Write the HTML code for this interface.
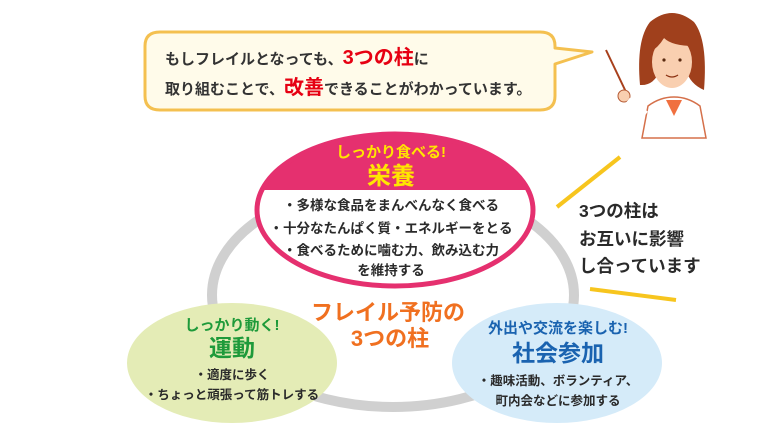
<!DOCTYPE html>
<html><head><meta charset="utf-8"><style>
html,body{margin:0;padding:0;background:#fff;}
svg{display:block;}
text{font-family:"Liberation Sans","Noto Sans CJK JP",sans-serif;font-weight:bold;}
</style></head><body>
<svg width="780" height="438" viewBox="0 0 780 438" xmlns="http://www.w3.org/2000/svg">
<!-- speech bubble -->
<path d="M160,32 L540,32 Q555,32 555,46 L555,48 L592,52 L555,64 L555,96 Q555,110 540,110 L160,110 Q145,110 145,96 L145,46 Q145,32 160,32 Z" fill="#fffbea" stroke="#f4c050" stroke-width="3" stroke-linejoin="round"/>
<text x="165" y="64" font-size="15" fill="#333">もしフレイルとなっても、<tspan fill="#e60012" font-size="20">3つの柱</tspan>に</text>
<text x="165" y="94" font-size="15" fill="#333">取り組むことで、<tspan fill="#e60012" font-size="20">改善</tspan>できることがわかっています。</text>

<!-- woman -->
<line x1="606" y1="50" x2="626" y2="92" stroke="#a8401c" stroke-width="2"/>
<path d="M642,138 L648,106 Q660,97 674,97 Q688,97 700,106 L706,138 Z" fill="#fff" stroke="#d5704a" stroke-width="1.5"/>
<path d="M666,100 L674,116 L682,100 Z" fill="#f07040"/>
<circle cx="624" cy="96" r="6" fill="#f9cfb0" stroke="#b55a34" stroke-width="1"/>
<path d="M628,100 L646,114" stroke="#fff" stroke-width="6"/>
<path d="M640,85 Q636,40 650,22 Q672,4 694,22 Q708,40 704,90 Q690,84 686,70 L660,70 Q654,86 640,85 Z" fill="#a0401c"/>
<ellipse cx="672" cy="62" rx="20" ry="26" fill="#f9cfb0"/>
<path d="M650,50 Q660,28 694,36 L694,46 Q672,46 664,38 Q658,48 650,52 Z" fill="#a0401c"/>
<circle cx="664" cy="60" r="1.6" fill="#5a2a10"/><circle cx="680" cy="60" r="1.6" fill="#5a2a10"/>
<path d="M666,75 Q672,79 678,75" stroke="#8a3010" stroke-width="1.3" fill="none"/>

<!-- gray ring -->
<ellipse cx="393" cy="295" rx="181" ry="112" fill="none" stroke="#d0d0d0" stroke-width="10"/>

<!-- pink ellipse -->
<defs><clipPath id="pc"><ellipse cx="395" cy="210" rx="138" ry="76"/></clipPath></defs>
<ellipse cx="395" cy="210" rx="138" ry="76" fill="#fff"/>
<rect x="250" y="130" width="290" height="60" fill="#e5306f" clip-path="url(#pc)"/>
<ellipse cx="395" cy="210" rx="138" ry="76" fill="none" stroke="#e5306f" stroke-width="5"/>
<text x="391" y="157" font-size="15" fill="#ffe600" text-anchor="middle">しっかり食べる!</text>
<text x="391" y="184" font-size="24" fill="#ffe600" text-anchor="middle">栄養</text>
<g font-size="13.5" fill="#2a2a2a" text-anchor="middle">
<text x="391" y="210">・多様な食品をまんべんなく食べる</text>
<text x="391" y="233">・十分なたんぱく質・エネルギーをとる</text>
<text x="391" y="255">・食べるために噛む力、飲み込む力</text>
<text x="391" y="275">を維持する</text>
</g>

<!-- center -->
<text x="388" y="320" font-size="22" fill="#f07020" text-anchor="middle">フレイル予防の</text>
<text x="390" y="346" font-size="22" fill="#f07020" text-anchor="middle">3つの柱</text>

<!-- green -->
<ellipse cx="232" cy="363" rx="105" ry="60" fill="#e4ecb6"/>
<text x="232" y="330" font-size="15" fill="#1e9a3a" text-anchor="middle">しっかり動く!</text>
<text x="232" y="356" font-size="23" fill="#1e9a3a" text-anchor="middle">運動</text>
<g font-size="12.5" fill="#2a2a2a" text-anchor="middle">
<text x="232" y="379">・適度に歩く</text>
<text x="232" y="399">・ちょっと頑張って筋トレする</text>
</g>

<!-- blue -->
<ellipse cx="557" cy="363" rx="105" ry="60" fill="#d5ebf9"/>
<text x="558" y="333" font-size="15" fill="#1a63b0" text-anchor="middle">外出や交流を楽しむ!</text>
<text x="558" y="361" font-size="23" fill="#1a63b0" text-anchor="middle">社会参加</text>
<g font-size="12.5" fill="#2a2a2a" text-anchor="middle">
<text x="558" y="385">・趣味活動、ボランティア、</text>
<text x="558" y="405">町内会などに参加する</text>
</g>

<!-- right text -->
<line x1="557" y1="207" x2="620" y2="157" stroke="#f7c51e" stroke-width="4"/>
<line x1="590" y1="289" x2="676" y2="300" stroke="#f7c51e" stroke-width="4"/>
<g font-size="17.5" fill="#2a2a2a" font-weight="normal">
<text x="579" y="217">3つの柱は</text>
<text x="579" y="245">お互いに影響</text>
<text x="579" y="272">し合っています</text>
</g>
</svg>
</body></html>
